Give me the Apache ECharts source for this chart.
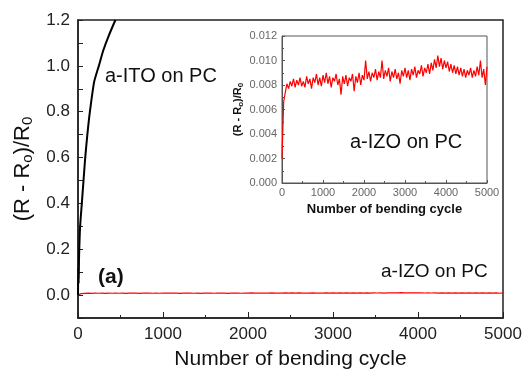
<!DOCTYPE html>
<html>
<head>
<meta charset="utf-8">
<script src="https://cdn.jsdelivr.net/npm/echarts@6/dist/echarts.min.js"></script>
<style>
  html, body { margin: 0; padding: 0; background: #fff; }
  #chart { width: 526px; height: 372px; }
</style>
</head>
<body>
<div id="chart"></div>
<script>
// a-ITO on PC (cycle, (R-R0)/R0)
const itoCycles = [0, 4, 8, 12, 25, 45, 65, 85, 110, 140, 190, 245, 300, 360, 440]
const itoValues = [0, 0.12, 0.05, 0.16, 0.3, 0.4, 0.5, 0.6, 0.7, 0.8, 0.93, 1.0, 1.07, 1.13, 1.2]

const izoStep = 40
const izoValues = [
  0.0020, 0.0066, 0.0074, 0.0081, 0.0077, 0.0083, 0.0079, 0.0085, 0.0078, 0.0084,
  0.0080, 0.0086, 0.0079, 0.0083, 0.0078, 0.0087, 0.0081, 0.0085, 0.0077, 0.0086,
  0.0082, 0.0089, 0.0080, 0.0086, 0.0079, 0.0088, 0.0082, 0.0090, 0.0081, 0.0087,
  0.0078, 0.0086, 0.0083, 0.0089, 0.0080, 0.0085, 0.0072, 0.0087, 0.0081, 0.0088,
  0.0079, 0.0086, 0.0083, 0.0089, 0.0075, 0.0087, 0.0082, 0.0090, 0.0080, 0.0088,
  0.0084, 0.0100, 0.0085, 0.0091, 0.0083, 0.0090, 0.0086, 0.0093, 0.0084, 0.0091,
  0.0086, 0.0100, 0.0085, 0.0092, 0.0087, 0.0094, 0.0083, 0.0091, 0.0086, 0.0093,
  0.0085, 0.0090, 0.0081, 0.0092, 0.0087, 0.0094, 0.0086, 0.0092, 0.0084, 0.0093,
  0.0088, 0.0095, 0.0086, 0.0092, 0.0089, 0.0096, 0.0087, 0.0094, 0.0090, 0.0097,
  0.0089, 0.0098, 0.0092, 0.0101, 0.0094, 0.0104, 0.0095, 0.0102, 0.0093, 0.0100,
  0.0094, 0.0099, 0.0091, 0.0097, 0.0090, 0.0096, 0.0089, 0.0095, 0.0088, 0.0094,
  0.0087, 0.0093, 0.0086, 0.0092, 0.0088, 0.0094, 0.0086, 0.0092, 0.0087, 0.0095,
  0.0088, 0.0100, 0.0086, 0.0093, 0.0080, 0.0095
]

const mainYLabels = ["0.0", "0.2", "0.4", "0.6", "0.8", "1.0", "1.2"]
const insetYLabels = ["0.000", "0.002", "0.004", "0.006", "0.008", "0.010", "0.012"]

const itoData = itoCycles.map((c, i) => [c, itoValues[i]])
const izoData = izoValues.map((v, i) => [i * izoStep, v])

const font = "Liberation Sans, Arial, sans-serif"
const chart = echarts.init(document.getElementById("chart"))

const option = {
  backgroundColor: "#fff",
  animation: false,
  grid: [
    { left: 78, right: 23, top: 20, bottom: 54, outerBoundsMode: "none", containLabel: false, show: true, borderColor: "#222", borderWidth: 1.5, backgroundColor: "transparent" },
    { left: 282, right: 39, top: 36, bottom: 189, outerBoundsMode: "none", containLabel: false, show: true, borderColor: "#555", borderWidth: 1, backgroundColor: "#fff" },
  ],
  xAxis: [
    {
      gridIndex: 0,
      type: "value",
      min: 0,
      max: 5000,
      interval: 1000,
      name: "Number of bending cycle",
      nameLocation: "middle",
      nameGap: 31,
      nameTextStyle: { fontFamily: font, fontSize: 21, color: "#111" },
      axisLine: { onZero: false, lineStyle: { color: "#222", width: 1.5 } },
      axisTick: { inside: true, length: 6, lineStyle: { color: "#222" } },
      minorTick: { show: true, splitNumber: 2, length: 3, lineStyle: { color: "#222" } },
      splitLine: { show: false },
      axisLabel: { fontFamily: font, fontSize: 17, color: "#222", margin: 8, formatter: (v) => String(v) },
    },
    {
      gridIndex: 1,
      type: "value",
      min: 0,
      max: 5000,
      interval: 1000,
      name: "Number of bending cycle",
      nameLocation: "middle",
      nameGap: 20,
      nameTextStyle: { fontFamily: font, fontSize: 13, fontWeight: "bold", color: "#111" },
      axisLine: { onZero: false, lineStyle: { color: "#555" } },
      axisTick: { inside: true, length: 3, lineStyle: { color: "#555" } },
      minorTick: { show: true, splitNumber: 2, length: 2, lineStyle: { color: "#555" } },
      splitLine: { show: false },
      axisLabel: { fontFamily: font, fontSize: 11, color: "#666", margin: 4, formatter: (v) => String(v) },
    },
  ],
  yAxis: [
    {
      gridIndex: 0,
      type: "value",
      min: -0.1,
      max: 1.2,
      interval: 0.1,
      name: "{a|(R - R}{s|o}{a|)/R}{s|0}",
      nameLocation: "middle",
      nameGap: 41,
      nameTextStyle: {
        rich: {
          a: { fontFamily: font, fontSize: 22, color: "#111", lineHeight: 26 },
          s: { fontFamily: font, fontSize: 15, color: "#111", lineHeight: 26, padding: [10, 0, 0, 0] },
        },
      },
      axisLine: { onZero: false, lineStyle: { color: "#222", width: 1.5 } },
      axisTick: { inside: true, length: 5, lineStyle: { color: "#222" } },
      splitLine: { show: false },
      axisLabel: {
        fontFamily: font,
        fontSize: 17,
        color: "#222",
        margin: 8,
        formatter: (v) => {
          const k = Math.round(v * 10)
          return k >= 0 && k % 2 === 0 ? mainYLabels[k / 2] : ""
        },
      },
    },
    {
      gridIndex: 1,
      type: "value",
      min: 0,
      max: 0.012,
      interval: 0.002,
      name: "{a|(R - R}{s|o}{a|)/R}{s|0}",
      nameLocation: "middle",
      nameGap: 37,
      nameTextStyle: {
        rich: {
          a: { fontFamily: font, fontSize: 11, fontWeight: "bold", color: "#111", lineHeight: 14 },
          s: { fontFamily: font, fontSize: 8, fontWeight: "bold", color: "#111", lineHeight: 14, padding: [5, 0, 0, 0] },
        },
      },
      axisLine: { onZero: false, lineStyle: { color: "#555" } },
      axisTick: { inside: true, length: 3, lineStyle: { color: "#555" } },
      minorTick: { show: true, splitNumber: 2, length: 2, lineStyle: { color: "#555" } },
      splitLine: { show: false },
      axisLabel: {
        fontFamily: font,
        fontSize: 11,
        color: "#666",
        margin: 5,
        formatter: (v) => insetYLabels[Math.round(v / 0.002)],
      },
    },
  ],
  series: [
    {
      name: "a-IZO on PC",
      type: "line",
      xAxisIndex: 0,
      yAxisIndex: 0,
      data: izoData,
      showSymbol: false,
      lineStyle: { color: "#ff0000", width: 1.2 },
      z: 2,
    },
    {
      name: "a-ITO on PC",
      type: "line",
      xAxisIndex: 0,
      yAxisIndex: 0,
      data: itoData,
      showSymbol: false,
      smooth: 0.2,
      lineStyle: { color: "#000", width: 2 },
      z: 3,
    },
    {
      name: "a-IZO on PC inset",
      type: "line",
      xAxisIndex: 1,
      yAxisIndex: 1,
      data: izoData,
      showSymbol: false,
      lineStyle: { color: "#ff0000", width: 1.2 },
      z: 5,
    },
  ],
  graphic: [
    { type: "text", left: 105, top: 66, style: { text: "a-ITO on PC", font: "20px " + font, fill: "#111" } },
    { type: "text", left: 98, top: 267, style: { text: "(a)", font: "bold 21px " + font, fill: "#111" } },
    { type: "text", left: 381, top: 262, style: { text: "a-IZO on PC", font: "19px " + font, fill: "#111" } },
    { type: "text", left: 350, top: 132, z: 10, style: { text: "a-IZO on PC", font: "20px " + font, fill: "#111" } },
  ],
}

chart.setOption(option)
</script>
</body>
</html>
